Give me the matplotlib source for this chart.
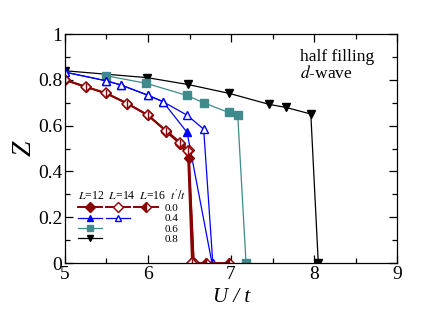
import matplotlib
matplotlib.use("Agg")
import matplotlib.pyplot as plt
from matplotlib.lines import Line2D
from matplotlib.ticker import MultipleLocator

plt.rcParams['font.family'] = ['Liberation Serif', 'DejaVu Serif']
plt.rcParams['mathtext.fontset'] = 'stix'

# t'/t = 0.0
r12_x = [5.0, 5.25, 5.5, 5.75, 6.0, 6.22, 6.39, 6.49, 6.55]
r12_y = [0.80, 0.77, 0.741, 0.697, 0.645, 0.575, 0.52, 0.457, 0.0]
r14_x = [5.0, 5.25, 5.5, 5.75, 6.0, 6.22, 6.39, 6.48, 6.53]
r14_y = [0.80, 0.77, 0.741, 0.697, 0.646, 0.578, 0.526, 0.49, 0.0]
r16_x = [6.22, 6.39, 6.49, 6.55, 6.70, 6.98]
r16_y = [0.574, 0.522, 0.493, 0.0, 0.0, 0.0]
# t'/t = 0.4
b12_x = [5.0, 5.5, 5.68, 6.0, 6.18, 6.47, 6.77]
b12_y = [0.834, 0.796, 0.777, 0.733, 0.705, 0.571, 0.0]
b14_x = [5.0, 5.5, 5.68, 6.0, 6.18, 6.47, 6.67, 6.78]
b14_y = [0.834, 0.796, 0.777, 0.733, 0.705, 0.646, 0.585, 0.0]
# t'/t = 0.6
g12_x = [5.5, 5.98, 6.47, 6.67, 6.97, 7.08, 7.18]
g12_y = [0.818, 0.785, 0.732, 0.70, 0.658, 0.646, 0.0]
# t'/t = 0.8
k12_x = [5.0, 5.99, 6.48, 6.98, 7.46, 7.66, 7.96, 8.05]
k12_y = [0.840, 0.81, 0.78, 0.741, 0.693, 0.680, 0.651, 0.0]

tp_labels = ["0.0", "0.4", "0.6", "0.8"]
x_ticks = [5, 6, 7, 8, 9]
y_ticks = [0, 0.2, 0.4, 0.6, 0.8, 1]

RED = '#8b0000'
BLUE = '#0000ff'
TEAL = '#3f8a8a'
BLACK = '#000000'

fig = plt.figure(figsize=(4.36, 3.22), dpi=100)
ax = fig.add_axes([0.149, 0.183, 0.762, 0.711])

ax.plot(k12_x, k12_y, color=BLACK, lw=0.9, marker='v', ms=6, mfc=BLACK, mec=BLACK)
ax.plot(g12_x, g12_y, color=TEAL, lw=0.9, marker='s', ms=6, mfc=TEAL, mec=TEAL)
ax.plot(b12_x, b12_y, color=BLUE, lw=0.9, marker='^', ms=6, mfc=BLUE, mec=BLUE)
ax.plot(b14_x, b14_y, color=BLUE, lw=0.9, marker='^', ms=6, mfc='white', mec=BLUE)
ax.plot(r12_x, r12_y, color=RED, lw=1.4, marker='D', ms=5.5, mfc=RED, mec=RED)
ax.plot(r16_x, r16_y, color=RED, lw=1.4, marker='D', ms=5.5, mfc=RED, mec=RED,
        fillstyle='left', markerfacecoloralt='white')
ax.plot(r14_x, r14_y, color=RED, lw=1.4, marker='D', ms=5.5, mfc='white', mec=RED, mew=1.1)
ax.plot(r14_x, r14_y, ls='none', marker='|', ms=5.5, mec=RED, mew=1.0)

ax.set_xlim(5, 9)
ax.set_ylim(0, 1)
ax.set_xticks(x_ticks)
ax.set_yticks(y_ticks)
ax.set_xticklabels([str(v) for v in x_ticks])
ax.set_yticklabels(['0', '0.2', '0.4', '0.6', '0.8', '1'])
ax.xaxis.set_minor_locator(MultipleLocator(0.5))
ax.yaxis.set_minor_locator(MultipleLocator(0.1))
ax.tick_params(which='both', direction='in', top=True, right=True, labelsize=14, width=0.9)
ax.tick_params(which='major', length=6)
ax.tick_params(which='minor', length=3.5)
ax.tick_params(axis='x', pad=2)
ax.tick_params(axis='y', pad=2)
for s in ax.spines.values():
    s.set_linewidth(0.9)

ax.set_xlabel('U / t', fontsize=15, fontstyle='italic', labelpad=4)
ax.set_ylabel('Z', fontsize=20, fontstyle='italic', labelpad=1)

ax.text(0.708, 0.9, 'half filling', transform=ax.transAxes, fontsize=12.5,
        ha='left', va='center')
ax.text(0.708, 0.828, r'$d$-wave', transform=ax.transAxes, fontsize=12.5,
        ha='left', va='center')

blank = Line2D([], [], ls='none', marker=None)
h_r12 = Line2D([], [], color=RED, lw=1.4, marker='D', ms=5, mfc=RED, mec=RED)
h_b12 = Line2D([], [], color=BLUE, lw=0.9, marker='^', ms=5, mfc=BLUE, mec=BLUE)
h_g12 = Line2D([], [], color=TEAL, lw=0.9, marker='s', ms=5, mfc=TEAL, mec=TEAL)
h_k12 = Line2D([], [], color=BLACK, lw=0.9, marker='v', ms=5, mfc=BLACK, mec=BLACK)
h_r14 = Line2D([], [], color=RED, lw=1.4, marker='D', ms=5, mfc='white', mec=RED)
h_b14 = Line2D([], [], color=BLUE, lw=0.9, marker='^', ms=5, mfc='white', mec=BLUE)
h_r16 = Line2D([], [], color=RED, lw=1.4, marker='D', ms=5, mfc=RED, mec=RED,
               fillstyle='left', markerfacecoloralt='white')

handles = [h_r12, h_b12, h_g12, h_k12,
           h_r14, h_b14, blank, blank,
           h_r16, blank, blank, blank]
labels = ['', '', '', '',
          '', '', '', '',
          tp_labels[0], tp_labels[1], tp_labels[2], tp_labels[3]]
leg = ax.legend(handles, labels, ncol=3, loc='upper left', bbox_to_anchor=(0.022, 0.35),
                frameon=False, fontsize=8, handlelength=2.15, handletextpad=0.6,
                columnspacing=-0.2, labelspacing=0.05, borderpad=0.0,
                title=r"$L$=12  $L$=14  $L$=16  $t'/t$", title_fontsize=8.5,
                alignment='left')

fig.savefig('out.png', dpi=100)
